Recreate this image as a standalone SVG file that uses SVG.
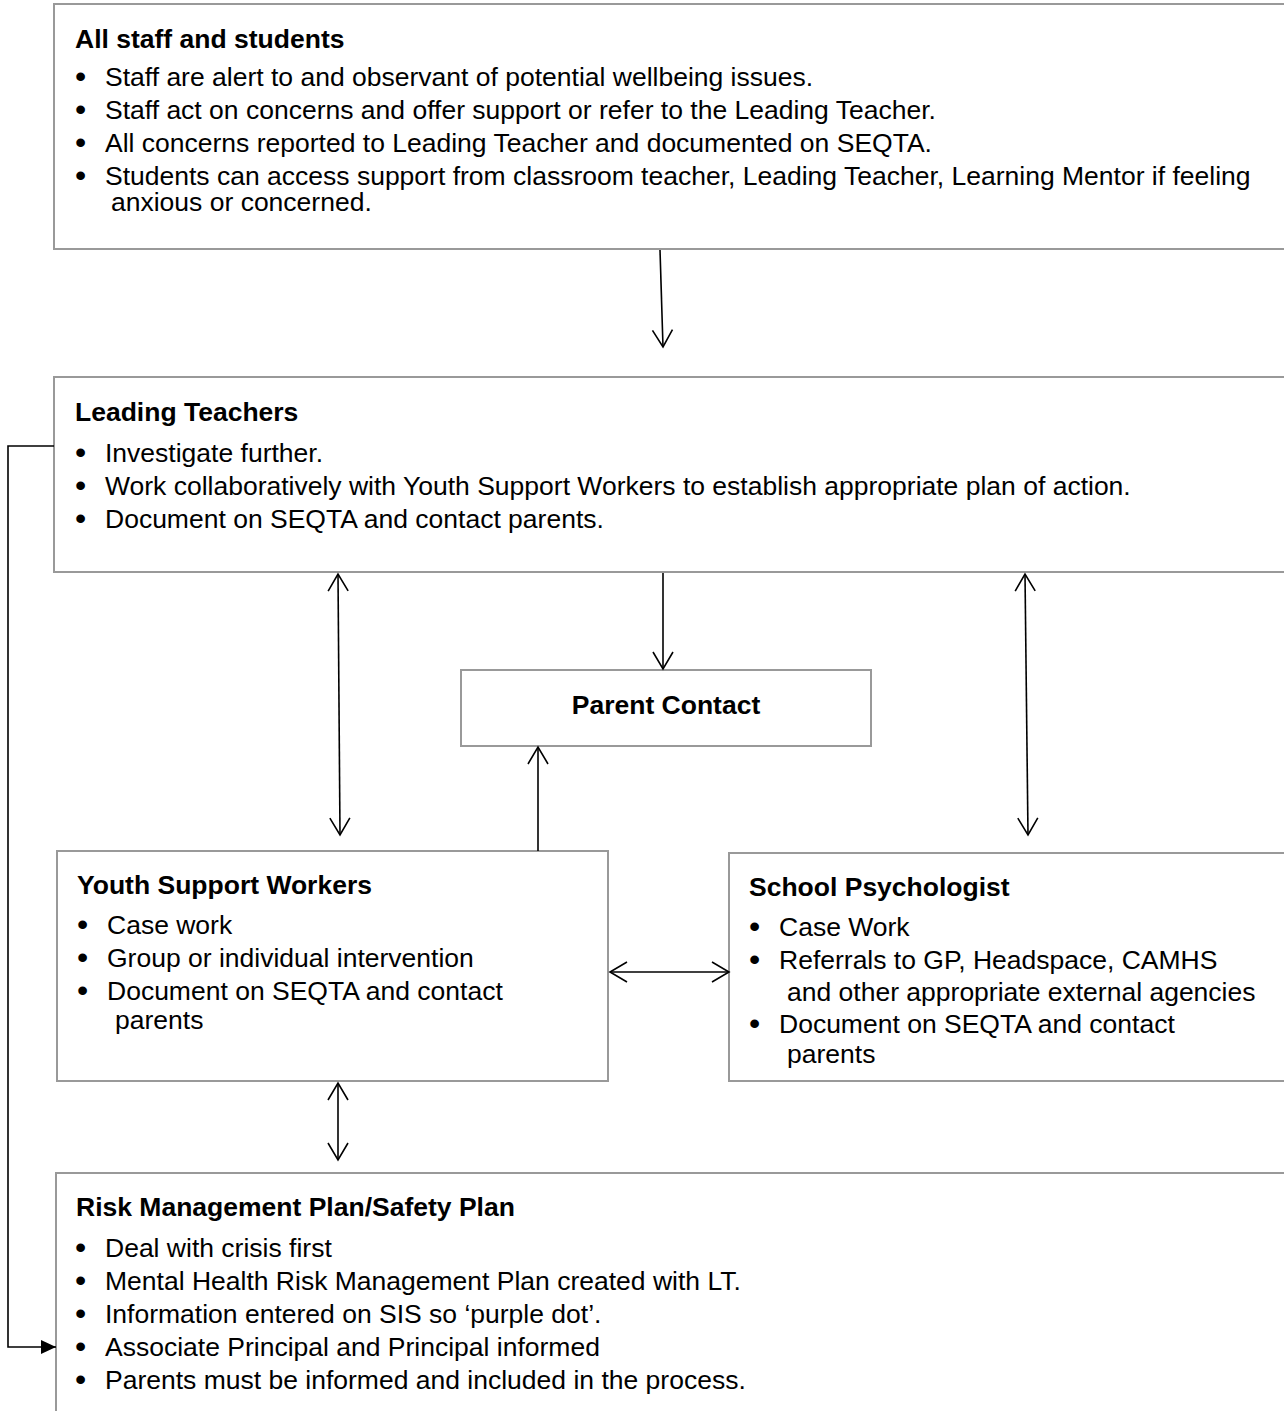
<svg xmlns="http://www.w3.org/2000/svg" width="1284" height="1411" viewBox="0 0 1284 1411">
<style>
.box{fill:#fff;stroke:#999;stroke-width:2}
text{font-family:"Liberation Sans",Arial,sans-serif;font-size:26.5px;fill:#000}
.t{font-weight:bold}
.b{font-size:32px}
.c{stroke:#000;stroke-width:1.6;fill:none}
</style>
<defs>
<marker id="open" markerUnits="userSpaceOnUse" viewBox="-20 -12 22 24" markerWidth="22" markerHeight="24" refX="0" refY="0" orient="auto-start-reverse" overflow="visible">
<path d="M-17,-10 L0,0 L-17,10" fill="none" stroke="#000" stroke-width="1.6"/>
</marker>
<marker id="solid" markerUnits="userSpaceOnUse" viewBox="-16 -8 16 16" markerWidth="16" markerHeight="16" refX="0" refY="0" orient="auto" overflow="visible">
<path d="M-15,-7 L0,0 L-15,7 Z" fill="#000"/>
</marker>
</defs>
<rect width="1284" height="1411" fill="#fff"/>
<g id="all-staff">
<rect class="box" x="54" y="4" width="1260" height="245"/>
<text class="t" x="75" y="48">All staff and students</text>
<text class="b" x="75" y="87">•</text><text x="105" y="86">Staff are alert to and observant of potential wellbeing issues.</text>
<text class="b" x="75" y="120">•</text><text x="105" y="119">Staff act on concerns and offer support or refer to the Leading Teacher.</text>
<text class="b" x="75" y="153">•</text><text x="105" y="152">All concerns reported to Leading Teacher and documented on SEQTA.</text>
<text class="b" x="75" y="186">•</text><text x="105" y="185">Students can access support from classroom teacher, Leading Teacher, Learning Mentor if feeling</text>
<text x="111" y="211">anxious or concerned.</text>
</g>
<g id="leading-teachers">
<rect class="box" x="54" y="377" width="1260" height="195"/>
<text class="t" x="75" y="421">Leading Teachers</text>
<text class="b" x="75" y="463">•</text><text x="105" y="462">Investigate further.</text>
<text class="b" x="75" y="496">•</text><text x="105" y="495">Work collaboratively with Youth Support Workers to establish appropriate plan of action.</text>
<text class="b" x="75" y="529">•</text><text x="105" y="528">Document on SEQTA and contact parents.</text>
</g>
<g id="parent-contact">
<rect class="box" x="461" y="670" width="410" height="76"/>
<text class="t" x="666" y="714" text-anchor="middle">Parent Contact</text>
</g>
<g id="youth-support">
<rect class="box" x="57" y="851" width="551" height="230"/>
<text class="t" x="77" y="894">Youth Support Workers</text>
<text class="b" x="77" y="935">•</text><text x="107" y="934">Case work</text>
<text class="b" x="77" y="968">•</text><text x="107" y="967">Group or individual intervention</text>
<text class="b" x="77" y="1001">•</text><text x="107" y="1000">Document on SEQTA and contact</text>
<text x="115" y="1029">parents</text>
</g>
<g id="school-psych">
<rect class="box" x="729" y="853" width="585" height="228"/>
<text class="t" x="749" y="896">School Psychologist</text>
<text class="b" x="749" y="937">•</text><text x="779" y="936">Case Work</text>
<text class="b" x="749" y="970">•</text><text x="779" y="969">Referrals to GP, Headspace, CAMHS</text>
<text x="787" y="1001">and other appropriate external agencies</text>
<text class="b" x="749" y="1034">•</text><text x="779" y="1033">Document on SEQTA and contact</text>
<text x="787" y="1063">parents</text>
</g>
<g id="risk-plan">
<rect class="box" x="56" y="1173" width="1260" height="260"/>
<text class="t" x="76" y="1216">Risk Management Plan/Safety Plan</text>
<text class="b" x="75" y="1258">•</text><text x="105" y="1257">Deal with crisis first</text>
<text class="b" x="75" y="1291">•</text><text x="105" y="1290">Mental Health Risk Management Plan created with LT.</text>
<text class="b" x="75" y="1324">•</text><text x="105" y="1323">Information entered on SIS so ‘purple dot’.</text>
<text class="b" x="75" y="1357">•</text><text x="105" y="1356">Associate Principal and Principal informed</text>
<text class="b" x="75" y="1390">•</text><text x="105" y="1389">Parents must be informed and included in the process.</text>
</g>
<g id="connectors">
<path class="c" d="M660,250 L663,347" marker-end="url(#open)"/>
<path class="c" d="M338,574 L340,835" marker-start="url(#open)" marker-end="url(#open)"/>
<path class="c" d="M663,573 L663,669" marker-end="url(#open)"/>
<path class="c" d="M1025,574 L1028,835" marker-start="url(#open)" marker-end="url(#open)"/>
<path class="c" d="M538,851 L538,747" marker-end="url(#open)"/>
<path class="c" d="M610,972 L729,972" marker-start="url(#open)" marker-end="url(#open)"/>
<path class="c" d="M338,1083 L338,1160" marker-start="url(#open)" marker-end="url(#open)"/>
<path class="c" d="M54,446 L8,446 L8,1347 L56,1347" marker-end="url(#solid)"/>
</g>
</svg>
